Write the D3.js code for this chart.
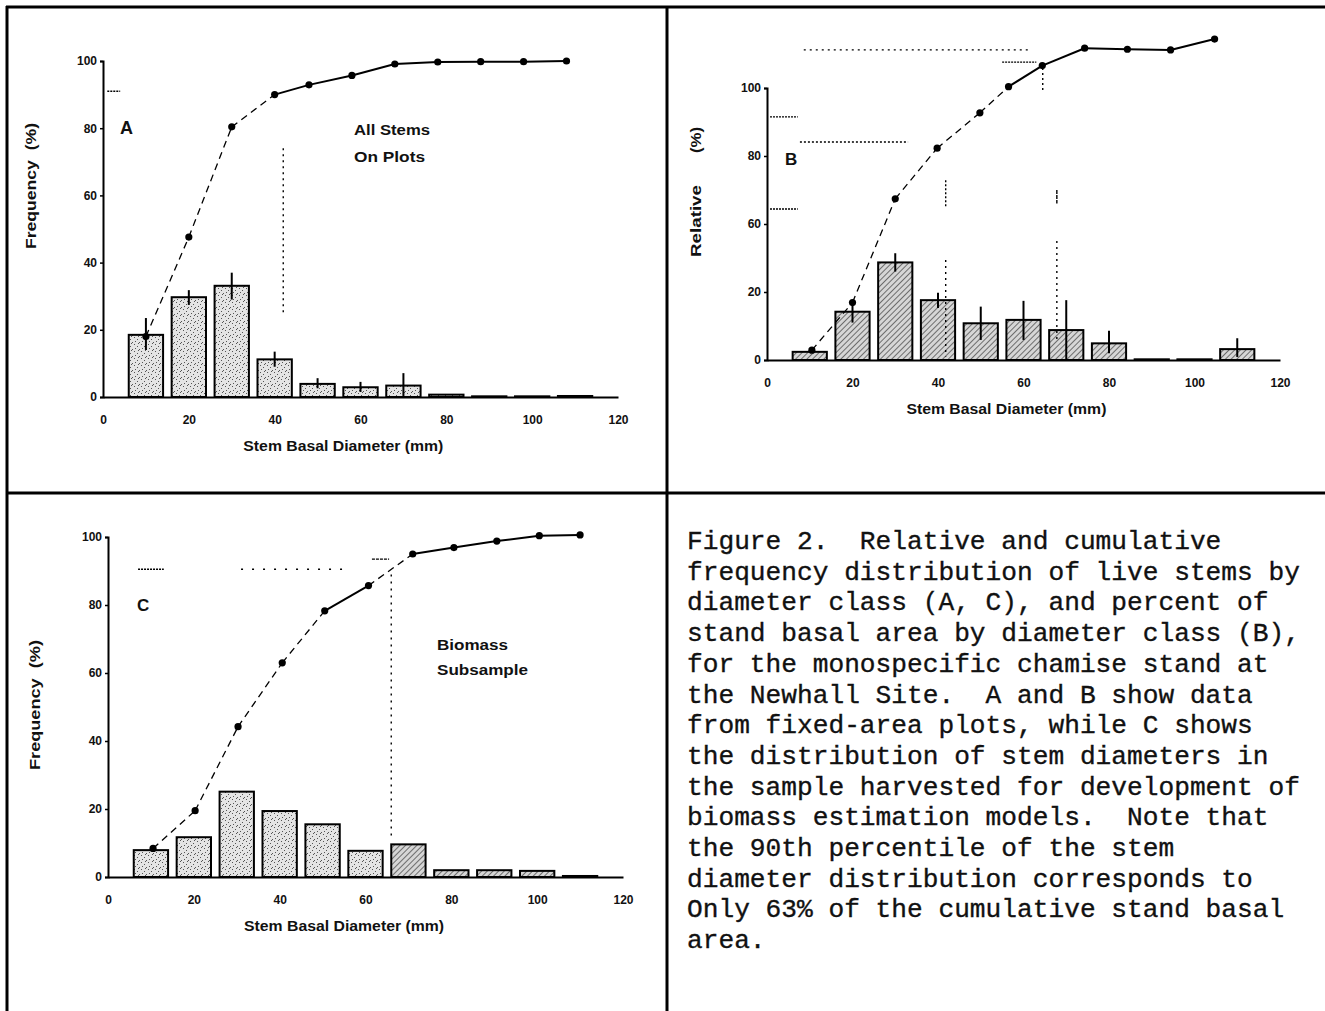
<!DOCTYPE html>
<html lang="en">
<head>
<meta charset="utf-8">
<title>Figure 2</title>
<script src="https://cdn.jsdelivr.net/npm/d3@7"></script>
<style>
  body { margin: 0; background: #fff; }
  svg text { font-family: Arial, "Liberation Sans", sans-serif; font-weight: bold; fill: #111; }
  svg text.caption { font-family: "Courier New", "Liberation Mono", monospace; font-weight: normal; font-size: 26.2px;
    white-space: pre; stroke: #111; stroke-width: 0.35px; }
</style>
</head>
<body>
<script>
// diameter classes (mm) and axis ticks, shared by the three panels
var classes = [10, 20, 30, 40, 50, 60, 70, 80, 90, 100, 110];
var xTicks = [0, 20, 40, 60, 80, 100, 120];

// Panel A - all stems on plots (frequency %)
var barsA   = [18.5, 29.7, 33.1, 11.2, 3.9, 2.9, 3.4, 0.7, 0.2, 0.2, 0.3];
var errLoA  = [14, 27.4, 29, 9, 2.6, 1.5, 0, null, null, null, null];
var errHiA  = [23.5, 31.8, 37, 13.5, 5.6, 4.5, 7.1, null, null, null, null];
var cumXA   = [10, 20, 30, 40, 48, 58, 68, 78, 88, 98, 108];
var cumYA   = [18, 47.6, 80.4, 90, 92.9, 95.7, 99.1, 99.7, 99.8, 99.8, 100];
var cumDashA = [1, 1, 1, 0, 0, 0, 0, 0, 0, 0];
var yTicksA = [0, 20, 40, 60, 80, 100];
var yLabelsA = ["0", "20", "40", "60", "80", "100"];

// Panel B - relative basal area (%); the printed tick labels skip "40"
var barsB   = [2.4, 14.2, 28.7, 17.6, 10.8, 11.8, 8.8, 4.9, 0.2, 0.2, 3.2];
var errLoB  = [null, 11, 26, 15.3, 5.9, 5.9, 0, 2, null, null, 0.9];
var errHiB  = [null, 17, 31.4, 19.8, 15.7, 17.4, 17.6, 8.6, null, null, 6.4];
var cumXB   = [10.5, 20, 30, 39.8, 49.8, 56.5, 64.4, 74.3, 84.3, 94.4, 104.7];
var cumYB   = [2.9, 16.9, 47.4, 62.3, 72.7, 80.4, 86.6, 91.7, 91.4, 91.2, 94.4];
var cumDashB = [1, 1, 1, 1, 1, 0, 0, 0, 0, 0];
var yTicksB = [0, 20, 40, 60, 80];
var yLabelsB = ["0", "20", "60", "80", "100"];

// Panel C - biomass subsample (frequency %)
var barsC   = [7.9, 11.7, 25.1, 19.4, 15.5, 7.7, 9.6, 2, 2, 1.8, 0.3];
var cumXC   = [10.5, 20.3, 30.3, 40.6, 50.5, 60.7, 71, 80.6, 90.6, 100.5, 110];
var cumYC   = [8.4, 19.5, 44.2, 63, 78.3, 85.7, 95, 96.9, 98.8, 100.4, 100.6];
var cumDashC = [1, 1, 1, 1, 0, 1, 0, 0, 0, 0];
var hatchC  = [0, 0, 0, 0, 0, 0, 1, 1, 1, 1, 0];
var yTicksC = [0, 20, 40, 60, 80, 100];
var yLabelsC = ["0", "20", "40", "60", "80", "100"];

// percentile guide lines (data units)
var refsA = [
  {x1: 42, y1: 74, x2: 42, y2: 25, d: "2,4"},
  {x1: 1, y1: 91, x2: 4, y2: 91, d: "2,1"}
];
var refsB = [
  {x1: 8.6, y1: 91.2, x2: 61, y2: 91.2, d: "2,4"},
  {x1: 7.7, y1: 64.1, x2: 33, y2: 64.1, d: "2,2"},
  {x1: 0.7, y1: 71.5, x2: 7.2, y2: 71.5, d: "2,1"},
  {x1: 0.7, y1: 44.4, x2: 7.2, y2: 44.4, d: "2,1"},
  {x1: 55, y1: 87.6, x2: 63, y2: 87.6, d: "2,1"},
  {x1: 64.5, y1: 85.9, x2: 64.5, y2: 78.8, d: "2,3"},
  {x1: 41.8, y1: 52.9, x2: 41.8, y2: 45, d: "2,2"},
  {x1: 41.8, y1: 29.4, x2: 41.8, y2: 1, d: "2,4"},
  {x1: 67.8, y1: 50, x2: 67.8, y2: 46, d: "4,1"},
  {x1: 67.8, y1: 35, x2: 67.8, y2: 5.9, d: "2,4"}
];
var refsC = [
  {x1: 7, y1: 90.5, x2: 13, y2: 90.5, d: "2,1"},
  {x1: 31, y1: 90.5, x2: 55, y2: 90.5, d: "2,9"},
  {x1: 61.5, y1: 93.5, x2: 65.5, y2: 93.5, d: "3,1"},
  {x1: 66, y1: 89, x2: 66, y2: 11.5, d: "2,5"}
];

var captionLines = [
  "Figure 2.  Relative and cumulative",
  "frequency distribution of live stems by",
  "diameter class (A, C), and percent of",
  "stand basal area by diameter class (B),",
  "for the monospecific chamise stand at",
  "the Newhall Site.  A and B show data",
  "from fixed-area plots, while C shows",
  "the distribution of stem diameters in",
  "the sample harvested for development of",
  "biomass estimation models.  Note that",
  "the 90th percentile of the stem",
  "diameter distribution corresponds to",
  "Only 63% of the cumulative stand basal",
  "area."
];

var W = 1325, H = 1011;
var svg = d3.select("body").append("svg").attr("width", W).attr("height", H);

// fill textures
var defs = svg.append("defs");
var stip = defs.append("pattern").attr("id", "stipple").attr("patternUnits", "userSpaceOnUse")
  .attr("width", 7).attr("height", 7);
stip.append("rect").attr("width", 7).attr("height", 7).attr("fill", "#e4e4e4");
[[1, 1], [4, 3], [2, 5], [6, 6], [5, 0]].forEach(function(p) {
  stip.append("rect").attr("x", p[0]).attr("y", p[1]).attr("width", 1).attr("height", 1).attr("fill", "#555");
});
var hatch = defs.append("pattern").attr("id", "hatch").attr("patternUnits", "userSpaceOnUse")
  .attr("width", 4).attr("height", 4).attr("patternTransform", "rotate(45)");
hatch.append("rect").attr("width", 4).attr("height", 4).attr("fill", "#d6d6d6");
hatch.append("line").attr("x1", 0).attr("y1", 0).attr("x2", 0).attr("y2", 4)
  .attr("stroke", "#333").attr("stroke-width", 1.3);

// frame
var frame = [[6, 7, 1325, 7], [7, 6, 7, 1011], [667, 6, 667, 1011], [6, 493, 1325, 493]];
svg.selectAll("line.frame").data(frame).enter().append("line")
  .attr("class", "frame")
  .attr("x1", function(d) { return d[0]; }).attr("y1", function(d) { return d[1]; })
  .attr("x2", function(d) { return d[2]; }).attr("y2", function(d) { return d[3]; })
  .attr("stroke", "#000").attr("stroke-width", 3);

function wideText(sel, len) {
  // the scanned lettering is stretched along its baseline
  if (len) sel.attr("textLength", len).attr("lengthAdjust", "spacingAndGlyphs");
  return sel;
}

function drawPanel(p) {
  var g = svg.append("g");
  var x = p.x, y = p.y;

  // bars
  g.selectAll("rect.bar").data(p.bars).enter().append("rect")
    .attr("class", "bar")
    .attr("x", function(d, i) { return x(classes[i] - 4); })
    .attr("width", function(d, i) { return x(classes[i] + 4) - x(classes[i] - 4); })
    .attr("y", function(d) { return y(d); })
    .attr("height", function(d) { return y(0) - y(d); })
    .attr("fill", function(d, i) { return p.hatch[i] ? "url(#hatch)" : "url(#stipple)"; })
    .attr("stroke", "#000").attr("stroke-width", 2);

  // error bars
  if (p.errLo) {
    g.selectAll("line.err").data(classes.filter(function(c, i) { return p.errLo[i] != null; }))
      .enter().append("line")
      .attr("class", "err")
      .attr("x1", function(c) { return x(c); }).attr("x2", function(c) { return x(c); })
      .attr("y1", function(c) { return y(p.errLo[classes.indexOf(c)]); })
      .attr("y2", function(c) { return y(p.errHi[classes.indexOf(c)]); })
      .attr("stroke", "#000").attr("stroke-width", 2);
  }

  // axes (the y axis only runs up to the last printed tick)
  var yAxisScale = y.copy().domain([0, p.yTop]).range([y(0), y(p.yTop)]);
  var ax = g.append("g").attr("transform", "translate(0," + y(0) + ")")
    .call(d3.axisBottom(x).tickValues(xTicks).tickSize(0).tickPadding(18));
  var ay = g.append("g").attr("transform", "translate(" + x(0) + ",0)")
    .call(d3.axisLeft(yAxisScale).tickValues(p.yTicks).tickSize(3).tickPadding(3)
      .tickFormat(function(d, i) { return p.yLabels[i]; }));
  [ax, ay].forEach(function(a) {
    a.select(".domain").attr("stroke", "#000").attr("stroke-width", 2);
    a.selectAll(".tick line").attr("stroke", "#000").attr("stroke-width", 1.5);
    a.selectAll(".tick text").attr("font-size", 12).attr("fill", "#111")
      .attr("font-family", "Arial, 'Liberation Sans', sans-serif").attr("font-weight", "bold");
  });

  // guide lines
  g.selectAll("line.ref").data(p.refs).enter().append("line")
    .attr("class", "ref")
    .attr("x1", function(d) { return x(d.x1); }).attr("y1", function(d) { return y(d.y1); })
    .attr("x2", function(d) { return x(d.x2); }).attr("y2", function(d) { return y(d.y2); })
    .attr("stroke", "#000").attr("stroke-width", 1.4).attr("stroke-dasharray", function(d) { return d.d; });

  // cumulative curve
  var segs = d3.range(p.cumX.length - 1);
  g.selectAll("line.cum").data(segs).enter().append("line")
    .attr("class", "cum")
    .attr("x1", function(i) { return x(p.cumX[i]); }).attr("y1", function(i) { return y(p.cumY[i]); })
    .attr("x2", function(i) { return x(p.cumX[i + 1]); }).attr("y2", function(i) { return y(p.cumY[i + 1]); })
    .attr("stroke", "#000")
    .attr("stroke-width", function(i) { return p.cumDash[i] ? 1.3 : 2; })
    .attr("stroke-dasharray", function(i) { return p.cumDash[i] ? "7,5" : null; });
  g.selectAll("circle.cum").data(p.cumX).enter().append("circle")
    .attr("class", "cum")
    .attr("cx", function(d) { return x(d); })
    .attr("cy", function(d, i) { return y(p.cumY[i]); })
    .attr("r", 3.6).attr("fill", "#000");

  // titles and labels (x title sits a little left of the axis centre)
  wideText(g.append("text").attr("x", x(p.titleAt)).attr("y", y(0) + 54)
    .attr("text-anchor", "middle").attr("font-size", 14).text("Stem Basal Diameter (mm)"), 200);
  p.yTitles.forEach(function(t) {
    wideText(g.append("text").attr("transform", "translate(" + t.x + "," + t.y + ") rotate(-90)")
      .attr("text-anchor", "middle").attr("font-size", 15).style("white-space", "pre").text(t.text), t.len);
  });
  p.notes.forEach(function(t) {
    wideText(g.append("text").attr("x", t.x).attr("y", t.y).attr("font-size", t.size).text(t.text), t.len);
  });
}

drawPanel({
  x: d3.scaleLinear().domain([0, 120]).range([103, 618]),
  y: d3.scaleLinear().domain([0, 100]).range([397, 61]),
  yTop: 100, titleAt: 56,
  bars: barsA, errLo: errLoA, errHi: errHiA, hatch: classes.map(function() { return 0; }),
  cumX: cumXA, cumY: cumYA, cumDash: cumDashA,
  yTicks: yTicksA, yLabels: yLabelsA, refs: refsA,
  yTitles: [{x: 36, y: 186, text: "Frequency  (%)", len: 126}],
  notes: [{x: 120, y: 134, size: 18, text: "A"}, {x: 354, y: 135, size: 14, text: "All Stems", len: 76},
          {x: 354, y: 162, size: 14, text: "On Plots", len: 71}]
});

drawPanel({
  x: d3.scaleLinear().domain([0, 120]).range([767, 1280]),
  y: d3.scaleLinear().domain([0, 100]).range([360, 20]),
  yTop: 80, titleAt: 56,
  bars: barsB, errLo: errLoB, errHi: errHiB, hatch: classes.map(function() { return 1; }),
  cumX: cumXB, cumY: cumYB, cumDash: cumDashB,
  yTicks: yTicksB, yLabels: yLabelsB, refs: refsB,
  yTitles: [{x: 701, y: 221, text: "Relative", len: 72}, {x: 701, y: 140, text: "(%)", len: 26}],
  notes: [{x: 785, y: 165, size: 17, text: "B"}]
});

drawPanel({
  x: d3.scaleLinear().domain([0, 120]).range([108, 623]),
  y: d3.scaleLinear().domain([0, 100]).range([877, 537]),
  yTop: 100, titleAt: 55,
  bars: barsC, errLo: null, errHi: null, hatch: hatchC,
  cumX: cumXC, cumY: cumYC, cumDash: cumDashC,
  yTicks: yTicksC, yLabels: yLabelsC, refs: refsC,
  yTitles: [{x: 40, y: 705, text: "Frequency  (%)", len: 130}],
  notes: [{x: 137, y: 611, size: 17, text: "C"}, {x: 437, y: 650, size: 14, text: "Biomass", len: 71},
          {x: 437, y: 675, size: 14, text: "Subsample", len: 91}]
});

// caption
svg.selectAll("text.caption").data(captionLines).enter().append("text")
  .attr("class", "caption")
  .attr("x", 687)
  .attr("y", function(d, i) { return 549 + i * 30.7; })
  .text(function(d) { return d; });
</script>
</body>
</html>
